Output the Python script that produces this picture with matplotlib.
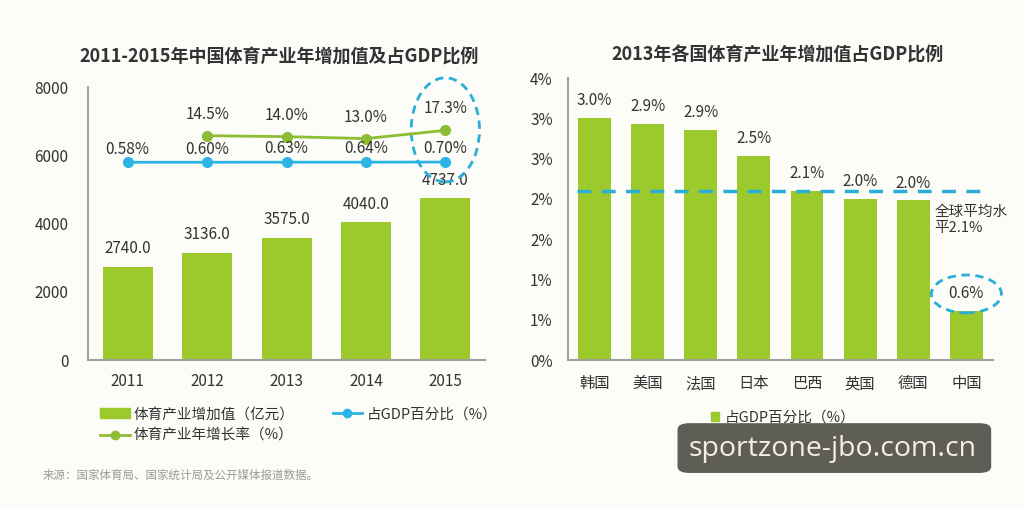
import matplotlib
matplotlib.use("Agg")
import matplotlib.pyplot as plt
from matplotlib.patches import Ellipse, FancyBboxPatch, Patch
from matplotlib.lines import Line2D

plt.rcParams['font.family'] = ['Noto Sans CJK SC', 'DejaVu Sans']

# ── data ──
years = ["2011", "2012", "2013", "2014", "2015"]
added_value = [2740.0, 3136.0, 3575.0, 4040.0, 4737.0]          # 亿元
gdp_share = [0.58, 0.60, 0.63, 0.64, 0.70]                       # %
growth_years = ["2012", "2013", "2014", "2015"]
growth_rate = [14.5, 14.0, 13.0, 17.3]                           # %

countries = ["韩国", "美国", "法国", "日本", "巴西", "英国", "德国", "中国"]
country_share = [3.0, 2.93, 2.86, 2.53, 2.10, 2.00, 1.98, 0.61]   # %
world_avg = 2.1
right_ticks = [0, 0.5, 1.0, 1.5, 2.0, 2.5, 3.0, 3.5]
right_ticklabels = ["0%", "1%", "1%", "2%", "2%", "3%", "3%", "4%"]

# ── style ──
BG = "#fcfcf8"
BAR = "#9cc92c"
BLUE = "#2cb4e4"
GREEN = "#8dbd34"
TXT = "#333333"
SPINE = "#a0a0a0"
DASH = "#2aaed6"

fig = plt.figure(figsize=(10.25, 5.08), dpi=100, facecolor=BG)

# ── left chart ──
ax = fig.add_axes([0.0859, 0.2913, 0.3873, 0.5374])
ax.set_facecolor("none")
xs = list(range(len(years)))
ax.bar(xs, added_value, width=0.63, color=BAR, zorder=2)
ax.set_xlim(-0.5, len(years) - 0.5)
ax.set_ylim(0, 8000)
ax.set_yticks([0, 2000, 4000, 6000, 8000])
ax.set_xticks(xs)
ax.set_xticklabels(years)
ax.tick_params(axis="y", length=0, pad=14, labelsize=11, labelcolor=TXT)
ax.tick_params(axis="x", length=0, pad=9, labelsize=11, labelcolor=TXT)
for s in ["top", "right"]:
    ax.spines[s].set_visible(False)
for s in ["left", "bottom"]:
    ax.spines[s].set_color(SPINE)
    ax.spines[s].set_linewidth(1.5)
for x, v in zip(xs, added_value):
    ax.annotate(f"{v:.1f}", (x, v), xytext=(0, 13), textcoords="offset points",
                ha="center", va="center", fontsize=11, color=TXT)

ax2 = ax.twinx()
ax2.set_ylim(-103, 40)
ax2.axis("off")
ax2.plot(xs, gdp_share, color=BLUE, lw=2, marker="o", ms=7, zorder=3)
gx = [years.index(y) for y in growth_years]
ax2.plot(gx, growth_rate, color=GREEN, lw=2, marker="o", ms=7, zorder=3)
for x, v in zip(xs, gdp_share):
    ax2.annotate(f"{v:.2f}%", (x, v), xytext=(0, 9.5), textcoords="offset points",
                 ha="center", va="center", fontsize=11, color=TXT)
for x, v in zip(gx, growth_rate):
    ax2.annotate(f"{v:.1f}%", (x, v), xytext=(0, 15.5), textcoords="offset points",
                 ha="center", va="center", fontsize=11, color=TXT)

ax.add_patch(Ellipse((xs[-1], 6745), 0.86, 3050, fill=False, ec=DASH, lw=2,
                     ls=(0, (3, 2)), zorder=4, clip_on=False))

fig.text(0.272, 0.888, "2011-2015年中国体育产业年增加值及占GDP比例", ha="center",
         va="center", fontsize=13, fontweight="bold", color=TXT)

handles = [Patch(color=BAR),
           Line2D([], [], color=GREEN, lw=2, marker="o", ms=6),
           Line2D([], [], color=BLUE, lw=2, marker="o", ms=6)]
labels = ["体育产业增加值（亿元）", "体育产业年增长率（%）", "占GDP百分比（%）"]
fig.legend(handles, labels, ncol=2, loc="upper left", bbox_to_anchor=(0.098, 0.198),
           frameon=False, fontsize=10.5, handlelength=2.0, handleheight=0.7,
           handletextpad=0.3, columnspacing=2.6, labelspacing=0.5,
           borderpad=0, borderaxespad=0, labelcolor=TXT)

fig.text(0.042, 0.065, "来源：国家体育局、国家统计局及公开媒体报道数据。", ha="left",
         va="center", fontsize=8.3, color="#9a9a9a")

# ── right chart ──
bx = fig.add_axes([0.5541, 0.2913, 0.4146, 0.5551])
bx.set_facecolor("none")
cx = list(range(len(countries)))
bx.bar(cx, country_share, width=0.62, color=BAR, zorder=2)
bx.set_xlim(-0.5, len(countries) - 0.5)
bx.set_ylim(0, 3.5)
bx.set_yticks(right_ticks)
bx.set_yticklabels(right_ticklabels)
bx.set_xticks(cx)
bx.set_xticklabels(countries)
bx.tick_params(axis="y", length=0, pad=11, labelsize=11, labelcolor=TXT)
bx.tick_params(axis="x", length=0, pad=11, labelsize=11, labelcolor=TXT)
for s in ["top", "right"]:
    bx.spines[s].set_visible(False)
for s in ["left", "bottom"]:
    bx.spines[s].set_color(SPINE)
    bx.spines[s].set_linewidth(1.5)
for x, v in zip(cx, country_share):
    bx.annotate(f"{v:.1f}%", (x, v), xytext=(0, 12.5), textcoords="offset points",
                ha="center", va="center", fontsize=11, color=TXT)
bx.plot([cx[0] - 0.33, cx[-1] + 0.35], [world_avg, world_avg], color=DASH, lw=2.5,
        ls=(0, (4, 3)), zorder=3)
bx.text(cx[-1] - 0.6, world_avg - 0.18, "全球平均水\n平2.1%", ha="left", va="top",
        fontsize=10.5, color=TXT, linespacing=1.15)
bx.add_patch(Ellipse((cx[-1], 0.82), 1.32, 0.47, fill=False, ec=DASH, lw=2,
                     ls=(0, (3, 2)), zorder=4, clip_on=False))

fig.text(0.759, 0.892, "2013年各国体育产业年增加值占GDP比例", ha="center", va="center",
         fontsize=13, fontweight="bold", color=TXT)

fig.legend([Patch(color=BAR)], ["占GDP百分比（%）"], loc="upper left",
           bbox_to_anchor=(0.694, 0.192), frameon=False, fontsize=10.5,
           handlelength=0.55, handleheight=0.55, handletextpad=0.4,
           borderpad=0, borderaxespad=0, labelcolor=TXT)

# watermark box
fig.add_artist(FancyBboxPatch((0.661, 0.069), 0.306, 0.098,
                              boxstyle="round,pad=0,rounding_size=0.012",
                              transform=fig.transFigure, fc="#5e5e56", ec="none",
                              zorder=10))
fig.text(0.812, 0.116, "sportzone-jbo.com.cn", ha="center", va="center",
         fontsize=20.5, color="#f6efdf", family="Open Sans", zorder=11)

fig.savefig("out.png", dpi=100, facecolor=BG)
